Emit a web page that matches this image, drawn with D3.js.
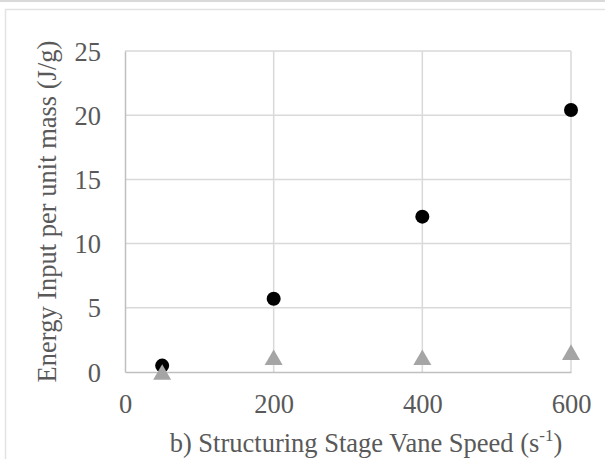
<!DOCTYPE html>
<html>
<head>
<meta charset="utf-8">
<script src="https://cdn.jsdelivr.net/npm/d3@7/dist/d3.min.js"></script>
<style>
  html, body { margin: 0; padding: 0; background: #fff; }
  svg { display: block; }
</style>
</head>
<body>
<script>
// Vane speed (s^-1) for each run
const speeds = [50, 200, 400, 600];
// Energy input per unit mass (J/g) — black circles
const energyCircle = [0.5, 5.7, 12.1, 20.4];
// Energy input per unit mass (J/g) — grey triangles
const energyTriangle = [0.0, 1.15, 1.15, 1.55];
// Axis ticks
const xTicks = [0, 200, 400, 600];
const yTicks = [0, 5, 10, 15, 20, 25];

const W = 605, H = 459;
const svg = d3.select("body").append("svg").attr("width", W).attr("height", H);

// Outer frame lines
svg.append("line").attr("x1", 0).attr("x2", W).attr("y1", 1).attr("y2", 1)
  .attr("stroke", "#d9d9d9").attr("stroke-width", 2);
svg.append("path").attr("d", `M5.5,${H} V9.5 H${W}`)
  .attr("fill", "none").attr("stroke", "#e3e3e3").attr("stroke-width", 1.5);

const plotL = 125, plotR = 571, plotT = 51, plotB = 372;
const x = d3.scaleLinear().domain([0, 600]).range([plotL, plotR]);
const y = d3.scaleLinear().domain([0, 25]).range([plotB, plotT]);

const font = "'Liberation Serif', 'Times New Roman', serif";
const fs = 26.5;

// Gridlines
svg.append("g").selectAll("line").data(yTicks.filter(d => d > 0)).join("line")
  .attr("x1", plotL).attr("x2", plotR)
  .attr("y1", d => y(d)).attr("y2", d => y(d))
  .attr("stroke", "#d9d9d9").attr("stroke-width", 1.5);
svg.append("g").selectAll("line").data(xTicks.filter(d => d > 0)).join("line")
  .attr("x1", d => x(d)).attr("x2", d => x(d))
  .attr("y1", plotT).attr("y2", plotB)
  .attr("stroke", "#d9d9d9").attr("stroke-width", 1.5);

// Axes
const xAxis = svg.append("g").attr("transform", `translate(0,${plotB})`)
  .call(d3.axisBottom(x).tickValues(xTicks).tickSize(0).tickPadding(22).tickFormat(d3.format("d")));
const yAxis = svg.append("g").attr("transform", `translate(${plotL},0)`)
  .call(d3.axisLeft(y).tickValues(yTicks).tickSize(0).tickPadding(24).tickFormat(d3.format("d")));
[xAxis, yAxis].forEach(a => {
  a.select(".domain").attr("stroke", "#bfbfbf").attr("stroke-width", 1.5);
  a.selectAll("text").attr("font-family", font).attr("font-size", fs).attr("fill", "#595959");
});
yAxis.selectAll("text").attr("dy", "0.34em");

// Circles
svg.append("g").selectAll("circle").data(speeds.map((s, i) => [s, energyCircle[i]])).join("circle")
  .attr("cx", d => x(d[0])).attr("cy", d => y(d[1])).attr("r", 7)
  .attr("fill", "#000");

// Triangle marker centred on its bounding box
const boxTriangle = {
  draw(context, size) {
    const s = Math.sqrt(size * 4 / Math.sqrt(3));
    const h = s * Math.sqrt(3) / 2;
    context.moveTo(0, -h / 2);
    context.lineTo(s / 2, h / 2);
    context.lineTo(-s / 2, h / 2);
    context.closePath();
  }
};
const tri = d3.symbol().type(boxTriangle).size(140);
svg.append("g").selectAll("path").data(speeds.map((s, i) => [s, energyTriangle[i]])).join("path")
  .attr("d", tri)
  .attr("transform", d => `translate(${x(d[0])},${y(d[1])})`)
  .attr("fill", "#a5a5a5");

// Axis titles
const xt = svg.append("text").attr("x", 366).attr("y", 452)
  .attr("text-anchor", "middle").attr("font-family", font).attr("font-size", fs).attr("fill", "#595959");
xt.append("tspan").text("b) Structuring Stage Vane Speed (s");
xt.append("tspan").attr("font-size", 17).attr("dy", -11).text("-1");
xt.append("tspan").attr("dy", 11).text(")");

svg.append("text")
  .attr("transform", `translate(56,${(plotT + plotB) / 2}) rotate(-90)`)
  .attr("text-anchor", "middle").attr("font-family", font).attr("font-size", fs).attr("fill", "#595959")
  .text("Energy Input per unit mass (J/g)");
</script>
</body>
</html>
